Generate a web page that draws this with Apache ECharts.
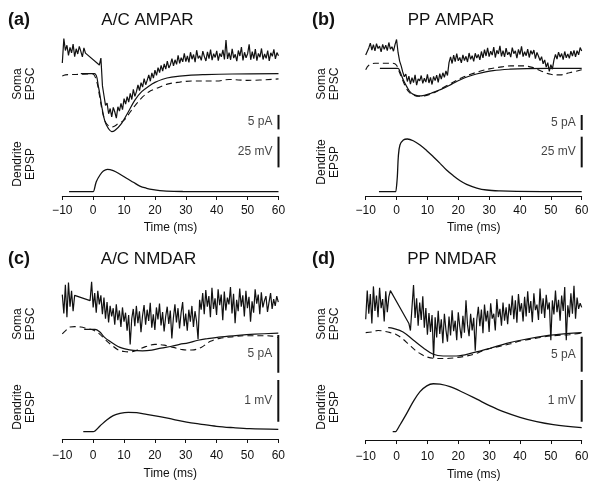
<!DOCTYPE html>
<html>
<head>
<meta charset="utf-8">
<script src="https://cdn.jsdelivr.net/npm/echarts@6/dist/echarts.min.js"></script>
<style>
  html, body { margin: 0; padding: 0; background: #fff; }
  #main { width: 600px; height: 489px; }
</style>
</head>
<body>
<div id="main"></div>
<script>
// time axis (ms)
const timeMin = -10;
const timeMax = 60;
const timeTick = 10;
const noiseStep = 0.5; // sampling of the recorded traces

// ---------- (a) A/C AMPAR : soma EPSC in pA, dendrite EPSP in mV ----------
const aNoisyPre = [3.7, 12.1, 8.0, 9.8, 6.3, 9.1, 7.2, 10.2, 5.9, 8.6, 6.8, 9.4, 7.7, 5.8, 8.9, 7.1, 7.6];
const aNoisyPostStart = 2;
const aNoisyPost = [3.0, 5.4, -4.2, -7.6, -10.9, -10.1, -13.8, -12.0, -14.9, -11.6, -13.2, -15.3, -11.4, -12.9, -10.2, -12.4,
  -8.6, -10.5, -7.9, -9.8, -6.8, -8.9, -5.4, -7.8, -6.2, -3.9, -5.8, -3.1, -4.6, -1.7, -3.8, -2.2, -0.4, -2.6, 0.3, -1.5,
  1.2, -0.6, 2.1, 0.4, 2.9, 0.9, 3.4, 1.6, 4.3, 2.0, 3.1, 5.2, 2.7, 4.8, 3.2, 6.3, 3.6, 5.5, 4.1, 7.0, 4.2, 6.1, 3.9, 7.4,
  5.0, 6.6, 4.0, 8.1, 5.3, 6.2, 4.6, 7.8, 5.9, 4.4, 7.5, 5.2, 8.3, 4.7, 6.9, 5.6, 7.9, 4.5, 7.0, 5.8, 8.2, 4.9, 11.6, 5.1,
  7.3, 4.8, 8.6, 5.4, 6.7, 4.3, 8.0, 6.1, 9.2, 4.6, 7.4, 5.5, 6.9, 10.1, 4.8, 7.6, 5.2, 8.5, 4.5, 7.0, 5.7, 8.7, 4.9, 6.8,
  5.3, 8.0, 4.4, 7.2, 6.0, 8.4, 5.1, 7.3, 6.2];
const aSolidT = [-4, 0.4, 1.7, 2.8, 3.85, 5, 6, 7, 9.2, 11.4, 13.5, 15.7, 18, 20, 22.5, 25.4, 30.8, 36.2, 45, 60];
const aSolidV = [0, 0, -4.5, -11.4, -16.6, -19.0, -20.0, -19.6, -17.1, -13.1, -9.1, -6.2, -4.3, -3.0, -1.9, -1.2, -0.55, -0.3, -0.1, 0];
const aDashT = [-10, -9, -7, -4, -0.3, 1, 2, 3, 4, 5, 6, 7, 8, 10, 12, 14, 16, 18, 20, 24, 28, 32, 40, 44, 50, 60];
const aDashV = [-0.8, -0.4, -0.3, -0.2, 0, -2.2, -7.3, -13.2, -16.7, -18.0, -18.4, -18.0, -17.3, -16.0, -13.2, -10.4, -8.0, -6.3, -5.3, -3.6, -2.9, -2.5, -2.5, -2.0, -2.3, -1.8];
const aDendT = [-7.8, -0.3, 0, 1, 2.2, 3.3, 4.6, 6.5, 8.7, 10.8, 13, 15.1, 17.3, 19.4, 21.6, 23.7, 29, 40, 60];
const aDendV = [0, 0, 0, 8.1, 13.6, 16.8, 18.2, 17.1, 14.2, 10.9, 7.7, 4.6, 2.8, 1.6, 0.8, 0.4, 0.15, 0.05, 0];

// ---------- (b) PP AMPAR ----------
const bNoisyPre = [4.4, 5.6, 6.8, 8.4, 6.1, 7.9, 5.8, 8.2, 6.6, 7.4, 5.5, 8.0, 6.3, 7.7, 5.9, 8.6, 6.4, 7.2, 5.7, 7.9, 9.6];
const bNoisyPostStart = 0.5;
const bNoisyPost = [5.2, 2.4, 0.8, -1.2, -2.8, -1.9, -4.4, -2.6, -5.3, -3.1, -4.8, -2.2, -5.6, -3.5, -4.2, -2.4, -5.0, -3.3,
  -4.6, -2.0, -4.9, -3.0, -5.4, -2.7, -4.1, -2.3, -4.7, -1.8, -3.6, -1.5, -3.0, -0.9, -2.4, 1.9, 3.8, 1.6, 4.4, 2.2, 4.9,
  2.5, 3.6, 1.8, 4.5, 2.6, 4.0, 2.1, 5.1, 3.0, 4.2, 2.3, 5.0, 3.4, 4.6, 2.8, 5.6, 3.5, 6.2, 4.1, 6.8, 3.9, 5.7, 4.4, 7.1,
  3.6, 6.0, 4.8, 7.5, 4.0, 5.9, 3.8, 6.7, 4.5, 5.4, 3.7, 6.9, 4.9, 5.8, 3.4, 6.3, 4.6, 7.3, 3.9, 5.5, 4.2, 6.4, 3.6, 5.9,
  4.7, 6.1, 3.2, 5.3, 4.0, 2.6, 3.9, 1.5, 2.8, 0.4, 1.9, -1.0, 1.2, -0.3, 2.7, 4.6, 3.1, 5.4, 3.7, 4.9, 2.9, 5.6, 3.5, 4.8,
  3.3, 5.7, 4.1, 6.0, 3.8, 5.9, 4.5, 6.9, 5.8];
const bSolidT = [-5.4, 0.5, 1.1, 2.2, 3.3, 4.3, 5.4, 7, 9, 11, 13, 15.1, 18, 20.5, 23, 25.9, 31.3, 36.7, 42.1, 60];
const bSolidV = [0, 0, -1.1, -3.9, -6.1, -7.8, -8.7, -9.2, -9.0, -8.4, -7.6, -6.7, -5.2, -3.9, -2.8, -1.9, -0.8, -0.3, -0.1, 0];
const bDashT = [-10, -9, -7, -4, -1.2, 0, 1, 2, 3, 4, 5, 6, 7, 9, 11, 13, 15, 18, 21, 24, 27, 30, 33, 37, 41, 44, 47, 50, 53, 56, 60];
const bDashV = [-0.5, 1.0, 1.7, 1.7, 1.7, 1.0, -1.5, -4.0, -6.3, -7.9, -8.7, -9.1, -9.3, -9.2, -8.6, -7.7, -6.5, -4.8, -3.2, -2.0, -1.0, -0.2, 0.3, 0.8, 0.8, 0.3, -1.0, -2.0, -2.2, -1.5, -0.5];
const bDendT = [-5.7, -0.2, 0, 0.25, 0.57, 1.1, 2.2, 3.5, 5.4, 7.6, 9.8, 11.9, 14.1, 16.2, 18.4, 20.6, 22.7, 26, 29.2, 33.5, 38.9, 60];
const bDendV = [0, 0, 0, 12.2, 28.5, 38, 42.1, 42.9, 41.5, 38, 33.4, 28.5, 23.1, 17.6, 13, 8.9, 6.0, 3.0, 1.4, 0.6, 0.2, 0];

// ---------- (c) A/C NMDAR ----------
const cNoisyPre = [4.6, 2.1, 5.9, 1.6, 6.2, 3.0, 5.1, 2.4, 4.5];
const cNoisyPostStart = -1;
const cNoisyPost = [3.8, 6.3, 2.9, 4.8, 2.2, 5.1, 3.3, 4.5, 2.0, 4.2, 1.4, 3.6, 0.9, 3.1, 1.7, 2.8, 0.6, 3.3, 1.2, 2.5, 0.3,
  2.9, 1.0, 2.2, -0.2, 1.9, -2.0, 1.4, 2.7, 0.4, 3.1, 0.8, 2.4, -0.4, 1.8, 3.2, 0.6, 2.6, 1.1, 3.5, 0.2, 2.0, -0.1, 2.9,
  1.3, 3.4, 0.5, 2.3, -0.3, 1.7, 3.0, 0.7, 2.5, -1.2, 1.5, 3.3, 0.9, 2.8, 0.1, 2.2, 3.6, 0.4, 2.1, -0.2, 2.6, 1.0, 3.1,
  0.3, 2.4, 1.1, -1.3, 3.9, 2.6, 4.8, 2.0, 5.2, 3.0, 4.4, 1.6, 5.5, 2.7, 4.1, 1.9, 5.3, 3.2, 4.6, 1.2, 5.0, 2.5, 4.2, 3.3,
  5.6, 2.1, 4.7, 0.8, 3.9, 2.4, 5.4, 3.0, 4.5, 1.7, 5.1, 2.8, 4.3, 1.0, 3.7, 2.2, 5.3, 3.4, 4.6, 2.0, 4.9, 2.9, 3.8, 4.4,
  2.3, 3.6, 4.8, 2.7, 4.0, 3.1, 4.4, 3.6];
const cSolidT = [-2.9, 0.6, 2, 3.8, 5.4, 7.1, 8.7, 10.3, 13, 16, 19, 22, 25.4, 28, 30.8, 34, 37, 41.6, 47, 52.4, 60];
const cSolidV = [0, 0, -0.3, -1.1, -1.6, -2.05, -2.4, -2.6, -2.8, -2.85, -2.75, -2.5, -2.25, -2.0, -1.8, -1.45, -1.25, -1.0, -0.8, -0.65, -0.5];
const cDashT = [-10, -9, -7.5, -6, -4, -2, 0, 2, 4, 6, 8, 10, 12, 14, 17, 20, 23, 26, 29, 32, 35, 38, 41, 45, 50, 55, 58, 60];
const cDashV = [-0.6, -0.2, 0.3, 0.35, 0.3, 0.1, -0.1, -0.6, -1.4, -2.1, -2.7, -2.95, -3.0, -2.8, -2.3, -2.0, -2.1, -2.4, -2.7, -2.75, -2.4, -1.6, -1.2, -1.0, -0.85, -0.85, -0.9, -1.1];
const cDendT = [-3.2, -0.3, 0, 2.2, 4.4, 6.5, 8.7, 11.4, 14.1, 17.3, 21.6, 25.9, 30.3, 34.6, 40, 45.4, 50.7, 60];
const cDendV = [0, 0, 0, 0.137, 0.28, 0.384, 0.44, 0.465, 0.456, 0.417, 0.36, 0.297, 0.232, 0.184, 0.129, 0.096, 0.072, 0.058];

// ---------- (d) PP NMDAR ----------
const dNoisyPre = [1.2, 5.3, 2.0, 4.8, 0.6, 5.9, 2.4, 4.6, 1.5, 5.7, 2.8, 4.1, 0.9, 5.2, 2.2, 4.4, 5.3];
const dNoisyPostStart = 4;
const dNoisyPost = [0.6, -0.4, 2.9, 6.1, 1.4, 4.2, 0.3, 3.6, 1.1, 4.5, 0.0, 2.8, -1.0, 2.1, -0.6, 1.8, -4.3, 1.5, -1.4, 2.4,
  -0.9, 1.2, -2.2, 2.0, -0.3, -2.0, 1.6, -1.1, 2.5, -0.5, 1.0, -1.8, 2.2, 0.1, -1.5, 1.7, -0.7, 3.9, 0.4, -1.2, 2.0, -0.4,
  1.4, -3.3, 1.1, 3.0, 0.2, 2.6, -0.8, 3.3, 0.9, 2.4, -0.6, 3.5, 1.3, 2.0, -0.4, 4.1, 1.5, 2.7, 0.3, 3.6, 1.0, 2.9, 0.5,
  3.4, 1.8, 4.6, 1.2, 3.9, 0.7, 4.8, 2.3, 3.5, 0.9, 4.4, 1.6, 5.2, 2.1, 3.8, 0.8, 4.9, 2.5, 3.3, 1.1, 5.6, 2.0, 4.2, 1.4,
  4.7, 2.6, 3.6, -1.8, 3.9, 1.9, 5.3, 2.2, 4.0, 1.0, 4.6, 2.4, 5.8, -1.8, 3.2, 1.5, 4.9, 2.0, 6.0, 1.3, 4.3, 2.7, 3.5, 2.9];
const dSolidT = [-2.7, -1.1, 2.1, 5.4, 8.7, 11.9, 15.1, 19.4, 24.9, 30.3, 35.7, 42.2, 48.7, 55.1, 60];
const dSolidV = [0, -0.1, -0.6, -1.76, -2.9, -3.8, -4.04, -4.04, -3.57, -2.94, -2.23, -1.61, -1.14, -0.86, -0.71];
const dDashT = [-10, -8, -6, -4, -2, 0, 2, 4, 6, 8, 10, 13, 16, 19, 22, 25, 28, 31, 34, 37, 40, 44, 48, 52, 56, 60];
const dDashV = [-0.7, -0.6, -0.4, -0.5, -0.7, -1.0, -1.6, -2.4, -3.2, -3.8, -4.2, -4.4, -4.4, -4.3, -4.1, -3.8, -3.3, -2.9, -2.6, -2.3, -1.9, -1.6, -1.3, -1.1, -1.0, -0.75];
const dDendT = [-1.25, -0.2, 0, 1.1, 3.3, 5.4, 7.6, 9.8, 11.9, 14.1, 17.3, 21.6, 26, 30.3, 34.6, 40, 45.4, 50.8, 60];
const dDendV = [0, 0, 0, 0.16, 0.44, 0.72, 0.96, 1.10, 1.15, 1.14, 1.08, 0.94, 0.78, 0.62, 0.48, 0.345, 0.24, 0.17, 0.096];

// scale bars (data units: 5 pA soma, 25 mV / 1 mV dendrite)
const somaBars = [[-14.2, -19.2], [-15.6, -20.6], [-0.75, -5.75], [-1.3, -6.3]];
const dendBars = [[44.8, 19.8], [44.8, 19.8], [1.24, 0.24], [1.24, 0.24]];
const somaBarText = ['5 pA', '5 pA', '5 pA', '5 pA'];
const dendBarText = ['25 mV', '25 mV', '1 mV', '1 mV'];

const panelTags = ['(a)', '(b)', '(c)', '(d)'];
const panelTitles = ['A/C AMPAR', 'PP AMPAR', 'A/C NMDAR', 'PP NMDAR'];

// layout (pixels); base = pixel row of 0, k = pixels per unit
const layout = [
  { left: 62.3, width: 216.2, soma: { base: 73.7, k: 2.9, min: -21.5, max: 15.5 }, dend: { base: 191.7, k: 1.228, min: -3.5, max: 46 }, margin: 9, gap: 26, tagX: 8, titleX: 147.5, titleY: 20, ylabX: 24, somaY: 84, dendY: 164 },
  { left: 365.7, width: 216, soma: { base: 68.3, k: 3.0, min: -22, max: 13.5 }, dend: { base: 191.7, k: 1.228, min: -3.5, max: 46 }, margin: 9, gap: 26, tagX: 312, titleX: 451, titleY: 20, ylabX: 328, somaY: 84, dendY: 162 },
  { left: 62.3, width: 216, soma: { base: 329.3, k: 7.54, min: -6, max: 7 }, dend: { base: 431.7, k: 41.7, min: -0.175, max: 1.3 }, margin: 11, gap: 29, tagX: 8, titleX: 148.5, titleY: 259.5, ylabX: 24, somaY: 324, dendY: 407 },
  { left: 365.7, width: 216, soma: { base: 327.7, k: 7.0, min: -6.5, max: 6.5 }, dend: { base: 431.7, k: 41.7, min: -0.2, max: 1.3 }, margin: 11, gap: 29, tagX: 312, titleX: 452, titleY: 259.5, ylabX: 328, somaY: 324, dendY: 407 }
];

const noisy = [
  [aNoisyPre, aNoisyPostStart, aNoisyPost],
  [bNoisyPre, bNoisyPostStart, bNoisyPost],
  [cNoisyPre, cNoisyPostStart, cNoisyPost],
  [dNoisyPre, dNoisyPostStart, dNoisyPost]
];
const solid = [[aSolidT, aSolidV], [bSolidT, bSolidV], [cSolidT, cSolidV], [dSolidT, dSolidV]];
const dashed = [[aDashT, aDashV], [bDashT, bDashV], [cDashT, cDashV], [dDashT, dDashV]];
const dend = [[aDendT, aDendV], [bDendT, bDendV], [cDendT, cDendV], [dDendT, dDendV]];

const FONT = "'Liberation Sans', Arial, Helvetica, sans-serif";
const INK = '#111';

function pairs(ts, vs) {
  return ts.map((t, i) => [t, vs[i]]);
}
function noisyPairs(pre, postStart, post) {
  return pre.map((v, i) => [timeMin + noiseStep * i, v])
    .concat(post.map((v, i) => [postStart + noiseStep * i, v]));
}
function gridOf(left, width, y) {
  return { left: left, width: width, top: y.base - y.max * y.k, height: (y.max - y.min) * y.k };
}

const grids = [];
const xAxes = [];
const yAxes = [];
const series = [];
const graphics = [];

layout.forEach((p, i) => {
  const gs = 2 * i, gd = 2 * i + 1;
  grids.push(gridOf(p.left, p.width, p.soma));
  grids.push(gridOf(p.left, p.width, p.dend));

  xAxes.push({ gridIndex: gs, type: 'value', min: timeMin, max: timeMax, show: false });
  xAxes.push({
    gridIndex: gd, type: 'value', min: timeMin, max: timeMax, interval: timeTick,
    axisLine: { show: true, onZero: false, lineStyle: { color: INK, width: 1 } },
    axisTick: { show: true, length: 4, lineStyle: { color: INK, width: 1 } },
    axisLabel: {
      color: INK, fontSize: 12, fontFamily: FONT, margin: p.margin,
      formatter: v => (v < 0 ? '\u2212' + Math.abs(v) : String(v))
    },
    splitLine: { show: false },
    name: 'Time (ms)', nameLocation: 'middle', nameGap: p.gap,
    nameTextStyle: { color: INK, fontSize: 12, fontFamily: FONT }
  });
  yAxes.push({ gridIndex: gs, type: 'value', min: p.soma.min, max: p.soma.max, show: false });
  yAxes.push({ gridIndex: gd, type: 'value', min: p.dend.min, max: p.dend.max, show: false });

  const base = { type: 'line', symbol: 'none', silent: true };
  series.push(Object.assign({}, base, {
    xAxisIndex: gs, yAxisIndex: gs,
    data: noisyPairs(noisy[i][0], noisy[i][1], noisy[i][2]),
    lineStyle: { color: INK, width: 1.2 }
  }));
  series.push(Object.assign({}, base, {
    xAxisIndex: gs, yAxisIndex: gs, smooth: 0.35,
    data: pairs(dashed[i][0], dashed[i][1]),
    lineStyle: { color: INK, width: 1.1, type: [6, 4] }
  }));
  series.push(Object.assign({}, base, {
    xAxisIndex: gs, yAxisIndex: gs, smooth: 0.35,
    data: pairs(solid[i][0], solid[i][1]),
    lineStyle: { color: INK, width: 1.2 }
  }));
  series.push(Object.assign({}, base, {
    xAxisIndex: gd, yAxisIndex: gd, smooth: 0.35,
    data: pairs(dend[i][0], dend[i][1]),
    lineStyle: { color: INK, width: 1.3 }
  }));
  // scale bars
  series.push(Object.assign({}, base, {
    xAxisIndex: gs, yAxisIndex: gs, clip: false,
    data: somaBars[i].map(v => [timeMax, v]),
    lineStyle: { color: INK, width: 2 }
  }));
  series.push(Object.assign({}, base, {
    xAxisIndex: gd, yAxisIndex: gd, clip: false,
    data: dendBars[i].map(v => [timeMax, v]),
    lineStyle: { color: INK, width: 2 }
  }));
  const lbl = { show: true, position: 'left', distance: 6, color: INK, fontSize: 12, fontFamily: FONT };
  series.push({
    type: 'scatter', xAxisIndex: gs, yAxisIndex: gs, symbolSize: 0, silent: true, clip: false,
    data: [[timeMax, (somaBars[i][0] + somaBars[i][1]) / 2]],
    label: Object.assign({ formatter: somaBarText[i] }, lbl)
  });
  series.push({
    type: 'scatter', xAxisIndex: gd, yAxisIndex: gd, symbolSize: 0, silent: true, clip: false,
    data: [[timeMax, (dendBars[i][0] + dendBars[i][1]) / 2]],
    label: Object.assign({ formatter: dendBarText[i] }, lbl)
  });

  // panel tag, title, row labels
  graphics.push({
    type: 'text', x: p.tagX, y: p.titleY, silent: true,
    style: { text: panelTags[i], fill: INK, font: 'bold 18px ' + FONT, textAlign: 'left', textVerticalAlign: 'middle' }
  });
  graphics.push({
    type: 'text', x: p.titleX, y: p.titleY, silent: true,
    style: { text: panelTitles[i], fill: INK, font: '17px ' + FONT, textAlign: 'center', textVerticalAlign: 'middle' }
  });
  graphics.push({
    type: 'text', x: p.ylabX, y: p.somaY, rotation: Math.PI / 2, silent: true,
    style: { text: 'Soma\nEPSC', fill: INK, font: '12px ' + FONT, lineHeight: 13, textAlign: 'center', textVerticalAlign: 'middle' }
  });
  graphics.push({
    type: 'text', x: p.ylabX, y: p.dendY, rotation: Math.PI / 2, silent: true,
    style: { text: 'Dendrite\nEPSP', fill: INK, font: '12px ' + FONT, lineHeight: 13, textAlign: 'center', textVerticalAlign: 'middle' }
  });
});

const chart = echarts.init(document.getElementById('main'), null, { renderer: 'canvas' });
chart.setOption({
  animation: false,
  backgroundColor: '#fff',
  textStyle: { fontFamily: FONT },
  grid: grids,
  xAxis: xAxes,
  yAxis: yAxes,
  series: series,
  graphic: graphics
});
</script>
</body>
</html>
